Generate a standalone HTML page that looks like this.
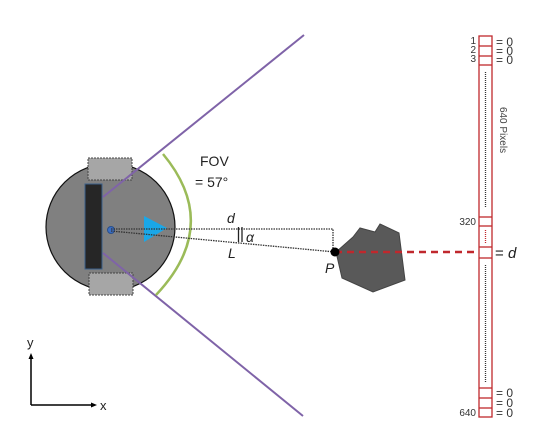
<!DOCTYPE html>
<html><head><meta charset="utf-8"><style>
html,body{margin:0;padding:0;background:#fff;}
svg{display:block;font-family:"Liberation Sans",sans-serif;}
</style></head><body>
<svg width="539" height="426" viewBox="0 0 539 426">
  <!-- robot -->
  <ellipse cx="110.5" cy="227" rx="64.5" ry="63.5" fill="#808080" stroke="#111" stroke-width="1.2"/>
  <rect x="88" y="158" width="44" height="22" fill="#a6a6a6" stroke="#444" stroke-width="1" stroke-dasharray="2,1"/>
  <rect x="89" y="273" width="44" height="22" fill="#a6a6a6" stroke="#444" stroke-width="1" stroke-dasharray="2,1"/>
  <!-- FOV lines -->
  <line x1="103" y1="197" x2="304" y2="35" stroke="#7f63a8" stroke-width="2"/>
  <line x1="103" y1="253" x2="303" y2="416" stroke="#7f63a8" stroke-width="2"/>
  <rect x="85" y="184" width="17" height="85" fill="#262626" stroke="#3a5f8a" stroke-width="1"/>
  <polygon points="144,216 144,242 167,228" fill="#1aa7e8"/>
  <circle cx="111" cy="230" r="3.5" fill="#3b6fc4" stroke="#2a4f8a" stroke-width="1"/>
  <!-- green arc -->
  <path d="M163,154 Q222,225 156,295" fill="none" stroke="#9bbb59" stroke-width="2.5"/>
  <text x="200" y="166" font-size="14" fill="#222">FOV</text>
  <text x="195" y="187" font-size="14" fill="#222">= 57°</text>
  <!-- dotted geometry -->
  <polyline points="111,229 333,229 333,252" fill="none" stroke="#333" stroke-width="1.3" stroke-dasharray="1.5,1"/>
  <line x1="111" y1="231" x2="335" y2="252" stroke="#333" stroke-width="1.3" stroke-dasharray="1.5,1"/>
  <line x1="238.5" y1="227" x2="238.5" y2="242" stroke="#222" stroke-width="1.3"/>
  <line x1="242" y1="227" x2="242" y2="242" stroke="#222" stroke-width="1.3"/>
  <text x="227" y="223" font-size="14" font-style="italic" fill="#222">d</text>
  <text x="246" y="242" font-size="14" font-style="italic" fill="#222">α</text>
  <text x="228" y="258" font-size="14" font-style="italic" fill="#222">L</text>
  <!-- obstacle -->
  <polygon points="353,237 360,228 375,232 380,224 399,233 405,280 373,292 342,278 336,252" fill="#595959" stroke="#444" stroke-width="1"/>
  <line x1="335" y1="252" x2="479" y2="252" stroke="#c0282d" stroke-width="2.5" stroke-dasharray="7,5"/>
  <circle cx="335" cy="252" r="4.5" fill="#000"/>
  <text x="325" y="273" font-size="14" font-style="italic" fill="#222">P</text>
  <!-- axes -->
  <line x1="31" y1="405" x2="31" y2="358" stroke="#000" stroke-width="1.5"/>
  <polygon points="31,353 28.5,359 33.5,359" fill="#000"/>
  <line x1="31" y1="405" x2="92" y2="405" stroke="#000" stroke-width="1.5"/>
  <polygon points="97,405 91,402.5 91,407.5" fill="#000"/>
  <text x="27" y="347" font-size="13" fill="#222">y</text>
  <text x="100" y="410" font-size="13" fill="#222">x</text>
  <!-- pixel strip -->
  <g stroke="#c0282d" stroke-width="1.3" fill="none">
    <rect x="479" y="36" width="13" height="381"/>
    <line x1="479" y1="46" x2="492" y2="46"/>
    <line x1="479" y1="56" x2="492" y2="56"/>
    <line x1="479" y1="65" x2="492" y2="65"/>
    <line x1="479" y1="217" x2="492" y2="217"/>
    <line x1="479" y1="226" x2="492" y2="226"/>
    <line x1="479" y1="247" x2="492" y2="247"/>
    <line x1="479" y1="258" x2="492" y2="258"/>
    <line x1="479" y1="388" x2="492" y2="388"/>
    <line x1="479" y1="398" x2="492" y2="398"/>
    <line x1="479" y1="408" x2="492" y2="408"/>
    <line x1="485.5" y1="230" x2="485.5" y2="243" stroke-dasharray="1,1"/>
  </g>
  <line x1="485.5" y1="72" x2="485.5" y2="208" stroke="#333" stroke-width="1.3" stroke-dasharray="1,1"/>
  <line x1="485.5" y1="265" x2="485.5" y2="382" stroke="#333" stroke-width="1.3" stroke-dasharray="1,1"/>
  <g font-size="10" fill="#333" text-anchor="end">
    <text x="476" y="44">1</text>
    <text x="476" y="53">2</text>
    <text x="476" y="62">3</text>
    <text x="476" y="225">320</text>
    <text x="476" y="416">640</text>
  </g>
  <g font-size="12" fill="#333">
    <text x="496" y="46">= 0</text>
    <text x="496" y="55">= 0</text>
    <text x="496" y="64">= 0</text>
    <text x="496" y="397">= 0</text>
    <text x="496" y="407">= 0</text>
    <text x="496" y="417">= 0</text>
  </g>
  <text x="495" y="258" font-size="15" fill="#222">= <tspan font-style="italic">d</tspan></text>
  <text transform="translate(500,130) rotate(90)" font-size="10" fill="#444" text-anchor="middle">640 Pixels</text>
</svg>
</body></html>
